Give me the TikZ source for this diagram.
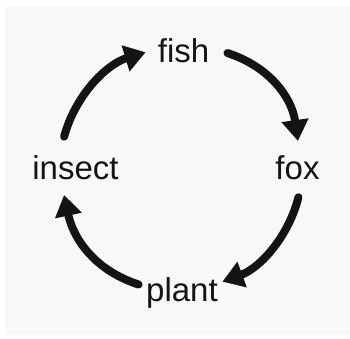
\documentclass[tikz,border=0pt]{standalone}
\usepackage{fontspec}
\setmainfont{Liberation Sans}
\usetikzlibrary{arrows.meta,calc}
\definecolor{bgray}{HTML}{F8F8F8}
\definecolor{ink}{HTML}{141414}
\begin{document}
\begin{tikzpicture}[x=1pt,y=1pt,
  lbl/.style={anchor=base,inner sep=0pt,font=\fontsize{33}{37}\selectfont,text=ink},
  arr/.style={draw=ink,line width=8pt,line cap=round,-{Triangle[length=21pt,width=26pt]}}]
\useasboundingbox (0,0) rectangle (350,339);
\fill[white] (0,0) rectangle (350,339);
\fill[bgray,rounded corners=3pt] (5,4) rectangle (352,332);
\node[lbl] (fish) at (183.5,276) {fish};
\node[lbl] (insect) at (75.5,159) {insect};
\node[lbl] (fox) at (297.5,159) {fox};
\node[lbl] (plant) at (182,37) {plant};
\coordinate (c) at (181,171);
\coordinate (t1) at ($(c)+(165:121)$);
\coordinate (t2) at ($(c)+(68:124)$);
\coordinate (t3) at ($(c)+(-14:121)$);
\coordinate (t4) at ($(c)+(-110:124)$);
\draw[arr] (t1) arc[start angle=165,end angle=107,radius=121];
\draw[arr] (t2) to[out=-18,in=98] ($(c)+(13:120)$);
\draw[arr] (t3) arc[start angle=-14,end angle=-70,radius=121];
\draw[arr] (t4) to[out=162,in=-78] ($(c)+(-167:120)$);
\end{tikzpicture}
\end{document}
